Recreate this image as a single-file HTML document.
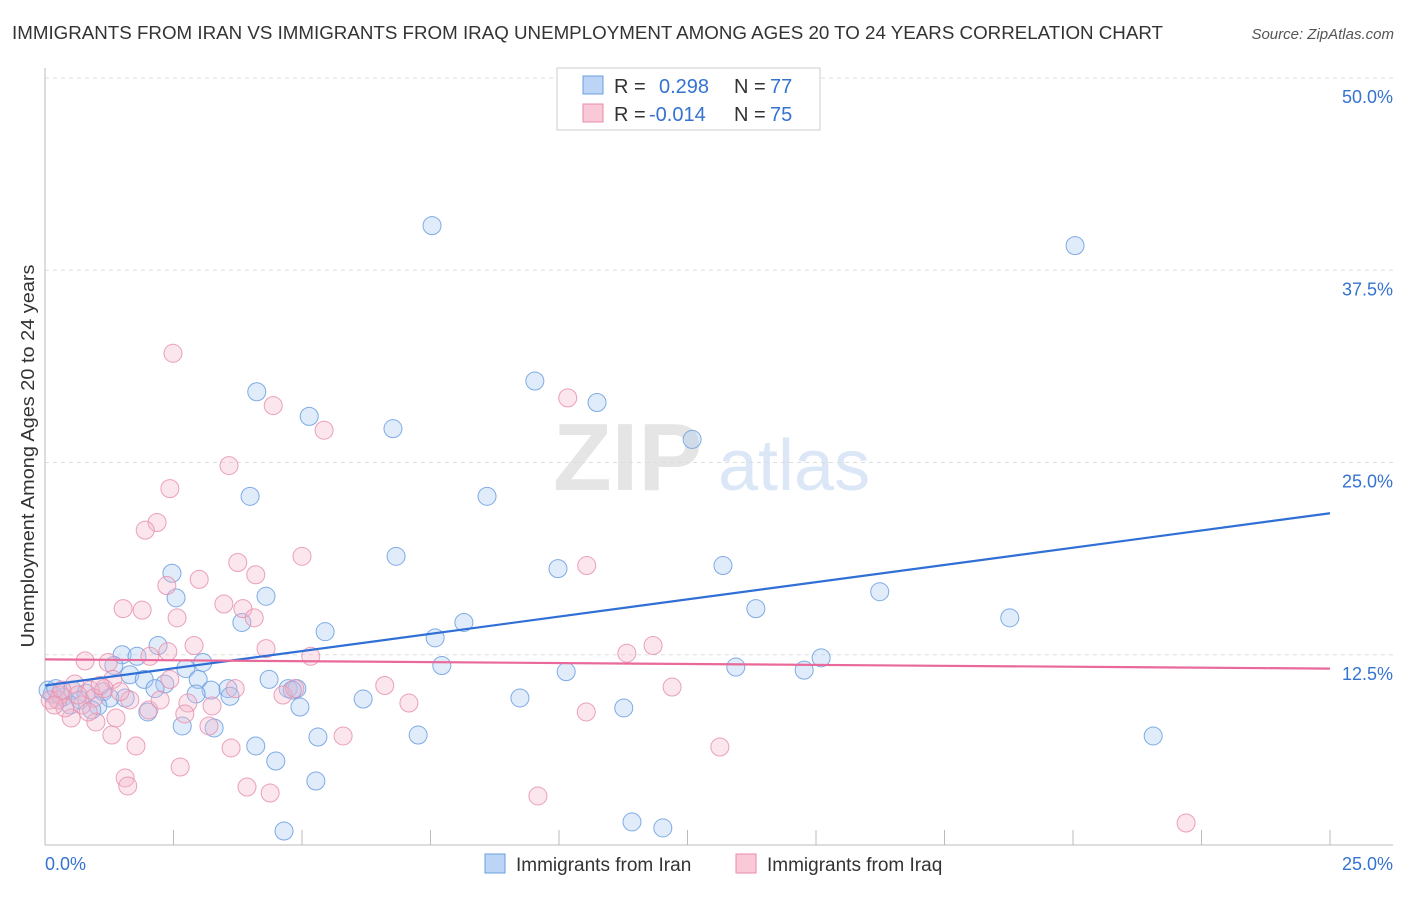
<!DOCTYPE html>
<html><head><meta charset="utf-8"><style>
body{margin:0;background:#fff;font-family:"Liberation Sans",sans-serif;}
svg text{font-family:"Liberation Sans",sans-serif;}
</style></head><body>
<svg id="chart" width="1406" height="892" xmlns="http://www.w3.org/2000/svg">
<text x="12" y="39" font-size="18" fill="#333" textLength="1151" lengthAdjust="spacingAndGlyphs">IMMIGRANTS FROM IRAN VS IMMIGRANTS FROM IRAQ UNEMPLOYMENT AMONG AGES 20 TO 24 YEARS CORRELATION CHART</text>
<text x="1394" y="39" font-size="15" fill="#555" text-anchor="end" font-style="italic">Source: ZipAtlas.com</text>
<g opacity="0.5">
<text x="553" y="490" font-size="96" font-family="Liberation Serif" fill="#ccc" font-weight="bold">ZIP</text>
<text x="718" y="490" font-size="72" fill="#b9cfee">atlas</text>
</g>
<g id="grid"></g>
<g id="axes"></g>
<g id="pts"></g>
<g id="trend"></g>
<text transform="translate(34,456) rotate(-90)" font-size="18" fill="#333" text-anchor="middle" textLength="383" lengthAdjust="spacingAndGlyphs">Unemployment Among Ages 20 to 24 years</text>
<g>
<rect x="557" y="68" width="263" height="62" fill="#fff" stroke="#ccc"/>
<rect x="583" y="76" width="20" height="18" fill="#bcd4f5" stroke="#6a9de0"/>
<rect x="583" y="104" width="20" height="18" fill="#f9c9d8" stroke="#e88aaa"/>
<text x="614" y="93" font-size="20" fill="#333">R =</text>
<text x="659" y="93" font-size="20" fill="#3573d0">0.298</text>
<text x="734" y="93" font-size="20" fill="#333">N =</text>
<text x="770" y="93" font-size="20" fill="#3573d0">77</text>
<text x="614" y="121" font-size="20" fill="#333">R =</text>
<text x="649" y="121" font-size="20" fill="#3573d0">-0.014</text>
<text x="734" y="121" font-size="20" fill="#333">N =</text>
<text x="770" y="121" font-size="20" fill="#3573d0">75</text>
</g>
<g>
<rect x="485" y="854" width="20" height="19" fill="#bcd4f5" stroke="#6a9de0"/>
<text x="516" y="871" font-size="19" fill="#333">Immigrants from Iran</text>
<rect x="736" y="854" width="20" height="19" fill="#f9c9d8" stroke="#e88aaa"/>
<text x="767" y="871" font-size="19" fill="#333">Immigrants from Iraq</text>
</g>
</svg>
<script>
const yTicks=[12.5,25,37.5,50];
const yTickLabels=["12.5%","25.0%","37.5%","50.0%"];
const xTickVals=[0,2.5,5,7.5,10,12.5,15,17.5,20,22.5,25];
const xEndLabels=["0.0%","25.0%"];
const iranX=[7.53,20.04,9.53,4.12,10.74,5.14,6.77,12.59,3.99,8.60,6.83,9.98,13.19,2.47,2.55,4.30,16.24,13.83,18.77,3.83,8.15,5.45,7.59,2.20,1.50,1.79,3.07,2.74,1.34,15.10,7.72,10.14,13.44,14.77,1.65,1.93,2.98,4.36,2.33,3.56,2.14,4.73,4.90,1.13,3.23,3.60,0.53,0.80,0.35,0.25,0.14,1.56,2.94,6.19,9.24,4.81,1.26,1.03,4.96,2.00,11.26,2.67,3.29,7.26,5.31,21.56,4.10,4.49,5.27,11.42,12.02,4.65,0.06,0.68,0.91,0.49,0.21];
const iranY=[40.4,39.1,30.3,29.6,28.9,28.0,27.2,26.5,22.8,22.8,18.9,18.1,18.3,17.8,16.2,16.3,16.6,15.5,14.9,14.6,14.6,14.0,13.6,13.1,12.5,12.4,12.0,11.6,11.8,12.3,11.8,11.4,11.7,11.5,11.2,10.9,10.9,10.9,10.6,10.3,10.3,10.3,10.3,10.1,10.2,9.8,10.2,10.0,9.75,9.56,9.95,9.69,9.95,9.62,9.69,10.2,9.69,9.17,9.10,8.78,9.04,7.87,7.74,7.28,7.15,7.22,6.57,5.59,4.29,1.63,1.24,1.04,10.2,9.56,8.91,9.23,10.3];
const iraqX=[2.49,10.17,4.44,5.43,3.58,2.43,2.18,1.95,5.00,3.75,10.54,4.10,3.00,2.37,1.52,1.89,3.48,3.85,2.57,4.07,2.90,11.83,4.30,11.32,5.17,0.78,2.04,1.23,2.39,1.32,1.15,6.61,12.20,0.88,4.63,0.58,0.25,0.95,2.78,7.08,2.02,10.53,2.72,1.38,0.51,0.99,3.19,1.30,5.80,1.77,3.62,13.13,2.63,1.56,1.61,3.93,4.38,9.59,22.20,0.29,0.39,0.72,0.10,1.07,1.65,2.43,3.25,3.70,4.86,2.24,0.84,0.33,0.64,0.18,1.46];
const iraqY=[32.1,29.2,28.7,27.1,24.8,23.3,21.1,20.6,18.9,18.5,18.3,17.7,17.4,17.0,15.5,15.4,15.8,15.5,14.9,14.9,13.1,13.1,12.9,12.6,12.4,12.1,12.4,12.0,12.7,10.9,10.3,10.5,10.4,10.2,9.88,10.6,9.56,9.69,9.36,9.36,8.91,8.78,8.65,8.39,8.39,8.13,7.87,7.28,7.22,6.57,6.44,6.50,5.20,4.49,3.97,3.90,3.51,3.32,1.56,9.88,9.04,9.23,9.56,10.5,9.56,10.9,9.17,10.3,10.3,9.56,8.78,10.2,9.88,9.23,10.1];
const iranTrend=[10.5,21.7];
const iraqTrend=[12.2,11.6];
const X0=45,X1=1330,Y0=847,Y1=78;
const xs=v=>X0+(v/25)*(X1-X0);
const ys=v=>Y0-(v/50)*(Y0-Y1);
const NS="http://www.w3.org/2000/svg";
function mk(tag,attrs,parent){const e=document.createElementNS(NS,tag);for(const k in attrs)e.setAttribute(k,attrs[k]);document.getElementById(parent).appendChild(e);return e;}
yTicks.forEach((t,i)=>{
 const l=mk('line',{x1:X0,x2:1393,y1:ys(t),y2:ys(t),stroke:'#ddd','stroke-dasharray':'4,4'},'grid');
 
 
 const tx=mk('text',{x:1393,y:ys(t)+25,'font-size':18,fill:'#3573d0','text-anchor':'end'},'grid');
 tx.textContent=yTickLabels[i];
 
 
});
let a=mk('line',{x1:X0,x2:X0,y1:68,y2:845,stroke:'#bbb'},'axes');


a=mk('line',{x1:X0,x2:1393,y1:845,y2:845,stroke:'#bbb'},'axes');


xTickVals.forEach(v=>{
 const t=mk('line',{x1:xs(v),x2:xs(v),y1:830,y2:845,stroke:'#bbb'},'axes');
 
 
});
[[0,'start',45],[25,'end',1393]].forEach((d,i)=>{
 const t=mk('text',{x:d[2],y:870,'font-size':18,fill:'#3573d0','text-anchor':d[1]},'axes');
 t.textContent=xEndLabels[i];
 
 
});
function dots(X,Y,fill,stroke,name){
 X.forEach((x,i)=>{
  const c=mk('circle',{cx:xs(x),cy:ys(Y[i]),r:9,fill:fill,'fill-opacity':0.35,stroke:stroke,'stroke-width':1,'stroke-opacity':0.85},'pts');
  
  
 });
}
dots(iranX,iranY,'#a9c8f0','#6a9de0','iran-point');
dots(iraqX,iraqY,'#f4b7cb','#e890ae','iraq-point');
let tl=mk('line',{x1:xs(0),x2:xs(25),y1:ys(iranTrend[0]),y2:ys(iranTrend[1]),stroke:'#2f6fd6','stroke-width':2.2},'trend');


tl=mk('line',{x1:xs(0),x2:xs(25),y1:ys(iraqTrend[0]),y2:ys(iraqTrend[1]),stroke:'#e8699a','stroke-width':2.2},'trend');


</script>
</body></html>
